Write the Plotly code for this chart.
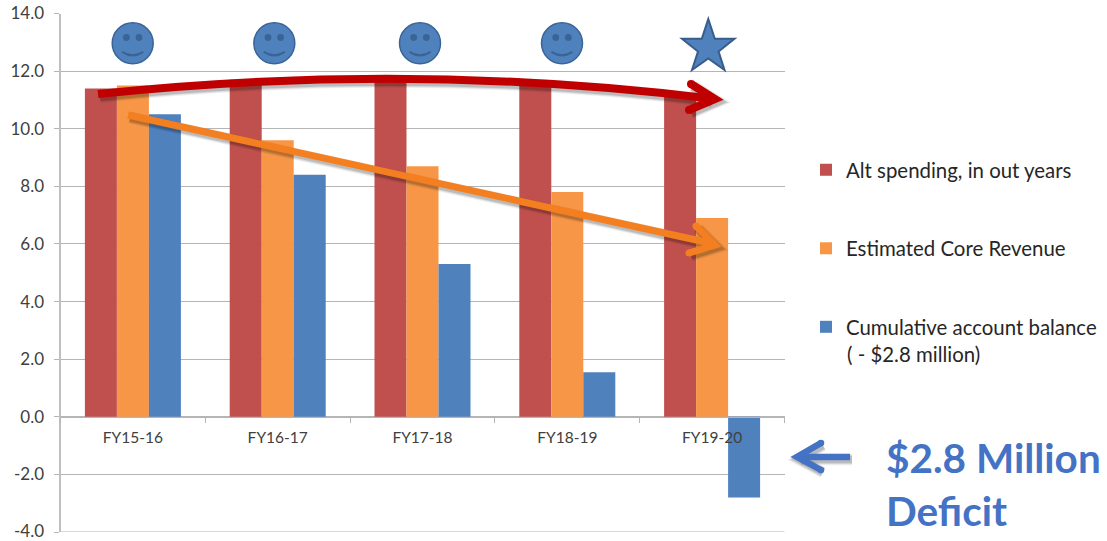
import plotly.graph_objects as go

W, H = 1107, 541
categories = ["FY15-16", "FY16-17", "FY17-18", "FY18-19", "FY19-20"]
alt_spending = [11.4, 11.7, 11.8, 11.6, 11.2]
core_revenue = [11.5, 9.6, 8.7, 7.8, 6.9]
account_balance = [10.5, 8.4, 5.3, 1.55, -2.8]
tick_vals = [14, 12, 10, 8, 6, 4, 2, 0, -2, -4]
tick_text = ["14.0", "12.0", "10.0", "8.0", "6.0", "4.0", "2.0", "0.0", "-2.0", "-4.0"]

FONT = "Lato, Carlito, Calibri, sans-serif"
X0, X1 = 60.5, 784.5
Y_TOP, Y_BOT, Y_ZERO = 13.5, 532.0, 416.7
GRID = "#B5B5B5"


def fx(x):
    return x / W


def fy(y):
    return 1 - y / H


def path_str(cmds):
    out = []
    for c in cmds:
        op = c[0]
        pts = c[1:]
        if op == "L":
            for i in range(0, len(pts), 2):
                out.append(f"L{fx(pts[i]):.5f},{fy(pts[i+1]):.5f}")
        else:
            out.append(op + " ".join(f"{fx(pts[i]):.5f},{fy(pts[i+1]):.5f}" for i in range(0, len(pts), 2)))
    return " ".join(out)


shapes = []


def add_path(cmds, color, width, fill=None):
    s = dict(type="path", xref="paper", yref="paper", path=path_str(cmds),
             line=dict(color=color, width=width), layer="above")
    if fill:
        s["fillcolor"] = fill
    shapes.append(s)


def add_dot(cx, cy, r, fill, line=None, lw=0):
    shapes.append(dict(type="circle", xref="paper", yref="paper",
                       x0=fx(cx - r), x1=fx(cx + r), y0=fy(cy + r), y1=fy(cy - r),
                       fillcolor=fill, line=dict(color=line or fill, width=lw), layer="above"))


def arrow(body, head, color, width):
    # body: path commands, head: [top, tip, bottom]
    dx, dy = 2, 2.5
    for w_extra, a in ((5, 0.06), (3, 0.09), (1, 0.14)):
        sh = []
        for c in body:
            pts = list(c[1:])
            sh.append([c[0]] + [p + (dx if i % 2 == 0 else dy) for i, p in enumerate(pts)])
        add_path(sh, f"rgba(0,0,0,{a})", width + w_extra)
        hd = [["M", head[0][0] + dx, head[0][1] + dy],
              ["L", head[1][0] + dx, head[1][1] + dy, head[2][0] + dx, head[2][1] + dy]]
        add_path(hd, f"rgba(0,0,0,{a})", width + w_extra)
    add_path(body, color, width)
    add_path([["M", *head[0]], ["L", *head[1], *head[2]]], color, width)
    add_dot(head[0][0], head[0][1], width / 2, color)
    add_dot(head[2][0], head[2][1], width / 2, color)


def smiley(cx, cy):
    add_dot(cx, cy, 20.5, "#4F81BD", "#3B6496", 1.5)
    add_dot(cx - 6.3, cy - 5.8, 3.4, "#3B6496")
    add_dot(cx + 6.3, cy - 5.8, 3.4, "#3B6496")
    add_path([["M", cx - 10.5, cy + 8.5], ["Q", cx, cy + 15.5, cx + 10.5, cy + 8.5]], "#3B6496", 2.2)


# bottom gridline at -4 (the axis drops it at the plot edge)
shapes.append(dict(type="line", xref="paper", yref="y", x0=fx(X0), x1=fx(X1), y0=tick_vals[-1], y1=tick_vals[-1],
                   line=dict(color=GRID, width=1), layer="below"))

for cx in (132.7, 274.3, 420.0, 562.0):
    smiley(cx, 43.3)

# star
star = [(708.3, 19), (714.8, 38.8), (734.5, 38.8), (718.6, 51.5), (724.5, 70),
        (708.3, 58.5), (692, 70), (698, 51.5), (682, 38.8), (701.8, 38.8)]
add_path([["M", *star[0]], ["L"] + [v for p in star[1:] for v in p], ["Z"]], "#385D8A", 2, fill="#4F81BD")

# arrows
arrow([["M", 98, 94], ["Q", 408, 61.5, 710, 98.5]], [(691, 84), (715, 99), (689, 110)], "#C00000", 8)
arrow([["M", 128, 115], ["L", 710, 243]], [(696, 226), (715, 245), (689, 253)], "#F47F20", 7)
arrow([["M", 850, 457], ["L", 799, 457]], [(821, 443), (797, 457), (821, 470)], "#4472C4", 6.5)

fig = go.Figure()
series = [("Alt spending, in out years", alt_spending, "#C0504D"),
          ("Estimated Core Revenue", core_revenue, "#F79646"),
          ("Cumulative account balance", account_balance, "#4F81BD")]
for i, (name, vals, col) in enumerate(series):
    fig.add_trace(go.Bar(x=categories, y=vals, name=name, marker=dict(color=col, line=dict(width=0)),
                         legendgroup=f"g{i}"))

fig.update_layout(
    width=W, height=H,
    margin=dict(l=0, r=0, t=0, b=0, autoexpand=False),
    paper_bgcolor="white", plot_bgcolor="white",
    barmode="group", bargap=0.337, bargroupgap=0,
    font=dict(family=FONT, color="#404040"),
    xaxis=dict(domain=[fx(X0), fx(X1)], range=[-0.5, 4.5], anchor="free", position=fy(Y_ZERO),
               type="category", tickson="boundaries", ticks="outside", ticklen=5, tickcolor=GRID,
               tickwidth=1, showline=True, linecolor=GRID, linewidth=1, showgrid=False, automargin=False,
               layer="above traces", tickangle=0, ticklabelstandoff=7,
               tickfont=dict(family=FONT, size=15.5, color="#404040")),
    yaxis=dict(domain=[fy(Y_BOT), fy(Y_TOP)], range=[-4, 14], tickmode="array", tickvals=tick_vals,
               ticktext=tick_text, ticks="outside", ticklen=5, tickcolor=GRID, tickwidth=1, automargin=False,
               showgrid=True, gridcolor=GRID, gridwidth=1, zeroline=False, showline=True,
               linecolor="#BFBFBF", linewidth=2, ticklabelstandoff=6,
               tickfont=dict(family=FONT, size=17, color="#404040")),
    legend=dict(x=fx(806), xanchor="left", y=fy(150), yanchor="top", traceorder="grouped",
                tracegroupgap=49, font=dict(family=FONT, size=20.4, color="#262626"),
                bgcolor="rgba(0,0,0,0)", itemclick=False, itemdoubleclick=False),
    shapes=shapes,
    annotations=[
        dict(text="<b>$2.8 Million</b>", xref="paper", yref="paper", x=fx(884), y=fy(457), xanchor="left",
             yanchor="middle", showarrow=False, font=dict(family=FONT, size=40.5, color="#4472C4")),
        dict(text="<b>Deficit</b>", xref="paper", yref="paper", x=fx(884), y=fy(510), xanchor="left",
             yanchor="middle", showarrow=False, font=dict(family=FONT, size=40.5, color="#4472C4")),
        dict(text="( - $2.8 million)", xref="paper", yref="paper", x=fx(845), y=fy(354), xanchor="left",
             yanchor="middle", showarrow=False, font=dict(family=FONT, size=20.4, color="#262626")),
        dict(text=tick_text[-1], xref="paper", yref="y", x=fx(45), y=tick_vals[-1], xanchor="right",
             yanchor="middle", showarrow=False, yshift=2, borderpad=0,
             font=dict(family=FONT, size=17, color="#404040")),
    ],
)

fig.write_html("out.html", config=dict(displayModeBar=False),
               post_script="document.body.style.margin='0';")
